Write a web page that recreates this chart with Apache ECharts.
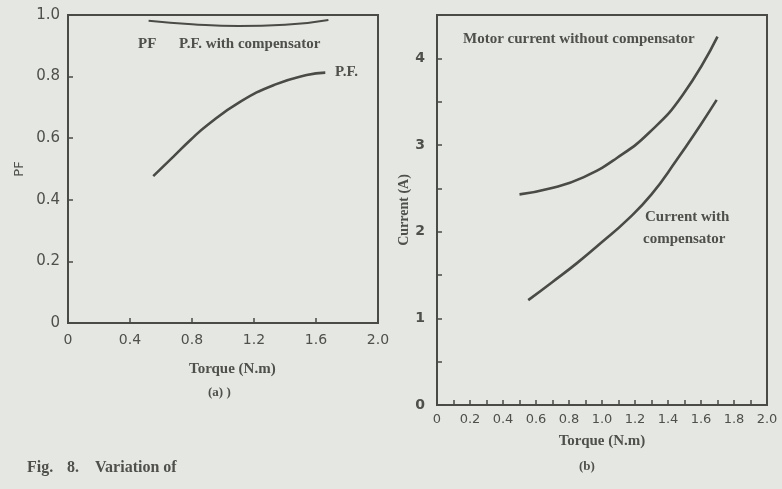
<!DOCTYPE html>
<html>
<head>
<meta charset="utf-8">
<script src="https://cdn.jsdelivr.net/npm/echarts@6/dist/echarts.min.js"></script>
<style>
  html, body { margin: 0; padding: 0; background: #e5e8e2; }
  #chart { width: 782px; height: 489px; }
</style>
</head>
<body>
<div id="chart"></div>
<script>
// (a) power factor vs torque
var pfCompTorque = [0.52, 0.8, 1.1, 1.4, 1.68];
var pfCompValues = [0.981, 0.970, 0.964, 0.968, 0.984];
var pfTorque = [0.55, 0.68, 0.79, 0.90, 1.11, 1.33, 1.54, 1.66];
var pfValues = [0.477, 0.540, 0.594, 0.643, 0.718, 0.773, 0.805, 0.813];

// (b) current vs torque
var curNoCompTorque = [0.50, 0.69, 0.89, 1.09, 1.29, 1.49, 1.70];
var curNoCompValues = [2.43, 2.50, 2.63, 2.85, 3.15, 3.58, 4.25];
var curCompTorque = [0.553, 0.70, 0.85, 1.00, 1.15, 1.30, 1.45, 1.60, 1.695];
var curCompValues = [1.21, 1.42, 1.64, 1.88, 2.13, 2.43, 2.82, 3.24, 3.52];

function pairs(xs, ys) {
    var out = [];
    for (var i = 0; i < xs.length; i++) {
        out.push([xs[i], ys[i]]);
    }
    return out;
}

var ink = '#4a4a47';
var textInk = '#4f4f4c';
var serif = '"Liberation Serif", "DejaVu Serif", serif';
var sans = '"DejaVu Sans", sans-serif';

var axisCommon = {
    axisLine: {show: true, lineStyle: {color: ink, width: 2}},
    axisTick: {show: true, inside: true, length: 5, lineStyle: {color: ink, width: 1.5}},
    splitLine: {show: false}
};

var curveStyle = {color: ink, width: 2.6};

var option = {
    backgroundColor: '#e5e8e2',
    animation: false,
    grid: [
        {left: 68, right: 404, top: 15, bottom: 166, show: true, borderColor: ink, borderWidth: 2},
        {left: 437, right: 15, top: 15, bottom: 84, show: true, borderColor: ink, borderWidth: 2}
    ],
    xAxis: [
        Object.assign({}, axisCommon, {
            type: 'value', gridIndex: 0, min: 0, max: 2, interval: 0.4,
            axisLabel: {
                color: textInk, fontFamily: sans, fontSize: 14, margin: 10,
                formatter: function (v) { return v === 0 ? '0' : v.toFixed(1); }
            }
        }),
        Object.assign({}, axisCommon, {
            type: 'value', gridIndex: 1, min: 0, max: 2, interval: 0.1,
            name: 'Torque (N.m)', nameLocation: 'middle', nameGap: 29,
            nameTextStyle: {fontFamily: serif, fontWeight: 'bold', fontSize: 15, color: textInk},
            axisLabel: {
                color: textInk, fontFamily: sans, fontSize: 13, margin: 8,
                formatter: function (v) {
                    var t = Math.round(v * 10);
                    if (t % 2 !== 0) return '';
                    return t === 0 ? '0' : (t / 10).toFixed(1);
                }
            }
        })
    ],
    yAxis: [
        Object.assign({}, axisCommon, {
            type: 'value', gridIndex: 0, min: 0, max: 1, interval: 0.2,
            name: 'PF', nameLocation: 'middle', nameGap: 42, nameRotate: 90,
            nameTextStyle: {fontFamily: sans, fontSize: 13, color: textInk},
            axisLabel: {
                color: textInk, fontFamily: sans, fontSize: 15, margin: 8,
                formatter: function (v) { return v === 0 ? '0' : v.toFixed(1); }
            }
        }),
        Object.assign({}, axisCommon, {
            type: 'value', gridIndex: 1, min: 0, max: 4.5, interval: 0.5,
            name: 'Current (A)', nameLocation: 'middle', nameGap: 23, nameRotate: 90,
            nameTextStyle: {fontFamily: serif, fontWeight: 'bold', fontSize: 14, color: textInk},
            axisLabel: {
                color: textInk, fontFamily: sans, fontWeight: 'bold', fontSize: 14, margin: 12,
                formatter: function (v) { return v % 1 === 0 ? String(v) : ''; }
            }
        })
    ],
    series: [
        {
            name: 'P.F. with compensator', type: 'line', xAxisIndex: 0, yAxisIndex: 0,
            smooth: true, symbol: 'none', lineStyle: {color: ink, width: 2},
            data: pairs(pfCompTorque, pfCompValues)
        },
        {
            name: 'P.F.', type: 'line', xAxisIndex: 0, yAxisIndex: 0,
            smooth: true, symbol: 'none', lineStyle: curveStyle,
            data: pairs(pfTorque, pfValues)
        },
        {
            name: 'Motor current without compensator', type: 'line', xAxisIndex: 1, yAxisIndex: 1,
            smooth: true, symbol: 'none', lineStyle: curveStyle,
            data: pairs(curNoCompTorque, curNoCompValues)
        },
        {
            name: 'Current with compensator', type: 'line', xAxisIndex: 1, yAxisIndex: 1,
            smooth: true, symbol: 'none', lineStyle: curveStyle,
            data: pairs(curCompTorque, curCompValues)
        }
    ],
    graphic: [
        {type: 'text', left: 138, top: 37, style: {text: 'PF', font: 'bold 15px ' + serif, fill: textInk}},
        {type: 'text', left: 179, top: 37, style: {text: 'P.F. with compensator', font: 'bold 15px ' + serif, fill: textInk}},
        {type: 'text', left: 335, top: 65, style: {text: 'P.F.', font: 'bold 15px ' + serif, fill: textInk}},
        {type: 'text', left: 189, top: 362, style: {text: 'Torque (N.m)', font: 'bold 15px ' + serif, fill: textInk}},
        {type: 'text', left: 208, top: 386, style: {text: '(a) )', font: 'bold 13px ' + serif, fill: textInk}},
        {type: 'text', left: 463, top: 32, style: {text: 'Motor current without compensator', font: 'bold 15px ' + serif, fill: textInk}},
        {type: 'text', left: 645, top: 210, style: {text: 'Current with', font: 'bold 15px ' + serif, fill: textInk}},
        {type: 'text', left: 643, top: 232, style: {text: 'compensator', font: 'bold 15px ' + serif, fill: textInk}},
        {type: 'text', left: 579, top: 460, style: {text: '(b)', font: 'bold 13px ' + serif, fill: textInk}},
        {type: 'text', left: 27, top: 460, style: {text: 'Fig.', font: 'bold 16px ' + serif, fill: textInk}},
        {type: 'text', left: 67, top: 460, style: {text: '8.', font: 'bold 16px ' + serif, fill: textInk}},
        {type: 'text', left: 95, top: 460, style: {text: 'Variation of', font: 'bold 16px ' + serif, fill: textInk}}
    ]
};

var chart = echarts.init(document.getElementById('chart'));
chart.setOption(option);
</script>
</body>
</html>
